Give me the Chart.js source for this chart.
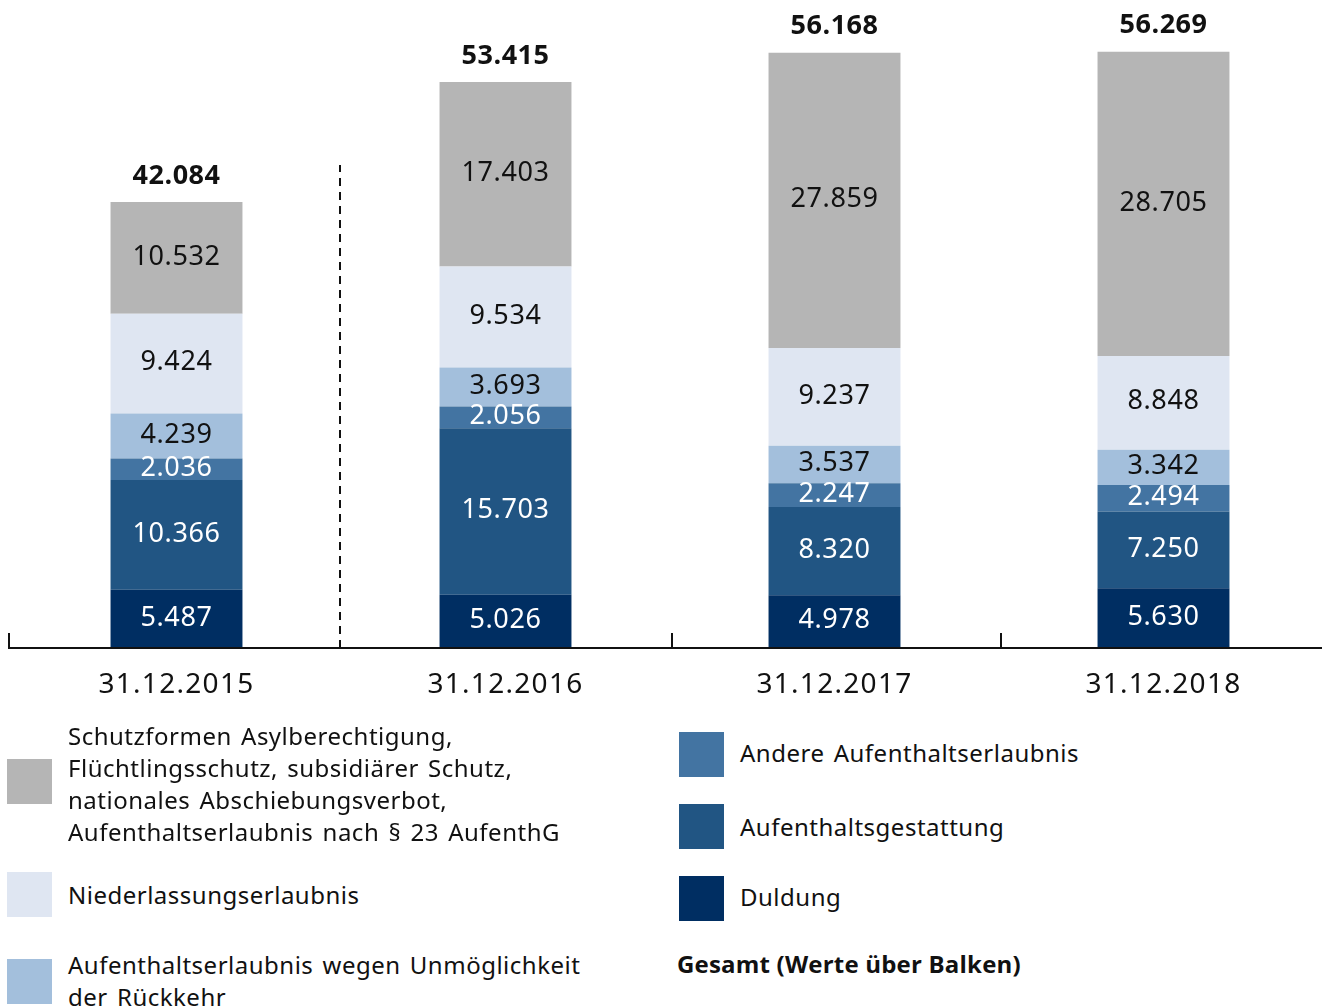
<!DOCTYPE html>
<html>
<head>
<meta charset="utf-8">
<script src="https://cdn.jsdelivr.net/npm/chart.js@4/dist/chart.umd.min.js"></script>
<style>
  html, body { margin: 0; padding: 0; background: #fff; }
  body { width: 1323px; height: 1006px; position: relative; overflow: hidden; font-family: "Noto Sans", sans-serif; color: #111; }
  #wrap { position: absolute; left: 0; top: 0; width: 1328px; height: 720px; }
  .sw { position: absolute; width: 45px; height: 45px; }
  .lt { position: absolute; font-size: 24px; line-height: 32px; white-space: nowrap; letter-spacing: 0.5px; word-spacing: 2.5px; }
  .bold { font-family: "Open Sans", sans-serif; font-weight: bold; letter-spacing: 0.2px; word-spacing: 0; }
</style>
</head>
<body>
<div id="wrap"><canvas id="c" width="1328" height="720"></canvas></div>

<div class="sw" style="left:7px;top:759px;background:#b5b5b5"></div>
<div class="lt" style="left:68px;top:720px">Schutzformen Asylberechtigung,<br>Flüchtlingsschutz, subsidiärer Schutz,<br>nationales Abschiebungsverbot,<br>Aufenthaltserlaubnis nach § 23 AufenthG</div>
<div class="sw" style="left:7px;top:872px;background:#dfe6f2"></div>
<div class="lt" style="left:68px;top:879px">Niederlassungserlaubnis</div>
<div class="sw" style="left:7px;top:959px;background:#a3bfdc"></div>
<div class="lt" style="left:68px;top:949px">Aufenthaltserlaubnis wegen Unmöglichkeit<br>der Rückkehr</div>

<div class="sw" style="left:679px;top:732px;background:#4374a2"></div>
<div class="lt" style="left:740px;top:737px">Andere Aufenthaltserlaubnis</div>
<div class="sw" style="left:679px;top:804px;background:#215583"></div>
<div class="lt" style="left:740px;top:811px">Aufenthaltsgestattung</div>
<div class="sw" style="left:679px;top:876px;background:#002e62"></div>
<div class="lt" style="left:740px;top:881px">Duldung</div>
<div class="lt bold" style="left:677px;top:948px">Gesamt (Werte über Balken)</div>

<script>
const categories = ["31.12.2015", "31.12.2016", "31.12.2017", "31.12.2018"];
const duldung = [5487, 5026, 4978, 5630];
const gestattung = [10366, 15703, 8320, 7250];
const andere = [2036, 2056, 2247, 2494];
const unmoeglichkeit = [4239, 3693, 3537, 3342];
const niederlassung = [9424, 9534, 9237, 8848];
const schutzformen = [10532, 17403, 27859, 28705];
const totals = [42084, 53415, 56168, 56269];

const seriesNames = ["Duldung", "Aufenthaltsgestattung", "Andere Aufenthaltserlaubnis",
  "Aufenthaltserlaubnis wegen Unmöglichkeit der Rückkehr", "Niederlassungserlaubnis",
  "Schutzformen"];
const seriesData = [duldung, gestattung, andere, unmoeglichkeit, niederlassung, schutzformen];
const seriesColors = ["#002e62", "#215583", "#4374a2", "#a3bfdc", "#dfe6f2", "#b5b5b5"];
const labelColors = ["#ffffff", "#ffffff", "#ffffff", "#111111", "#111111", "#111111"];

function fmt(n) {
  return String(n).replace(/\B(?=(\d{3})+(?!\d))/g, ".");
}

const FONT = '"Noto Sans", sans-serif';

const labelPlugin = {
  id: 'labels',
  beforeDraw(chart) {
    chart.ctx.letterSpacing = '1.3px';
  },
  afterDatasetsDraw(chart) {
    const ctx = chart.ctx;
    ctx.save();
    ctx.textAlign = 'center';
    ctx.textBaseline = 'middle';
    ctx.letterSpacing = '0.6px';
    chart.data.datasets.forEach((ds, di) => {
      const meta = chart.getDatasetMeta(di);
      meta.data.forEach((bar, i) => {
        const y = (bar.y + bar.base) / 2;
        ctx.fillStyle = labelColors[di];
        ctx.font = '27px ' + FONT;
        ctx.fillText(fmt(ds.data[i]), bar.x, y - 1);
      });
    });
    const topMeta = chart.getDatasetMeta(chart.data.datasets.length - 1);
    ctx.fillStyle = '#111';
    ctx.letterSpacing = '0.5px';
    ctx.font = 'bold 27px "Open Sans", sans-serif';
    topMeta.data.forEach((bar, i) => {
      ctx.fillText(fmt(totals[i]), bar.x, bar.y - 26);
    });
    ctx.restore();
  },
  afterDraw(chart) {
    const ctx = chart.ctx;
    const area = chart.chartArea;
    const x = chart.scales.x;
    const n = categories.length;
    const w = (area.right - area.left) / n;
    ctx.save();
    ctx.strokeStyle = '#111';
    ctx.lineWidth = 2;
    ctx.beginPath();
    ctx.moveTo(area.left - 4, area.bottom);
    ctx.lineTo(1322, area.bottom);
    ctx.stroke();
    for (let i = 0; i < n; i++) {
      if (i === 1) continue;
      const bx = i === 0 ? area.left - 3 : x.getPixelForValue(i) - w / 2 + 2;
      ctx.beginPath();
      ctx.moveTo(bx, area.bottom - 15);
      ctx.lineTo(bx, area.bottom);
      ctx.stroke();
    }
    const sx = x.getPixelForValue(1) - w / 2 - 1;
    ctx.setLineDash([8, 6]);
    ctx.beginPath();
    ctx.moveTo(sx, area.bottom);
    ctx.lineTo(sx, 165);
    ctx.stroke();
    ctx.restore();
  }
};

new Chart(document.getElementById('c'), {
  type: 'bar',
  data: {
    labels: categories,
    datasets: seriesData.map((d, i) => ({
      label: seriesNames[i],
      data: d,
      backgroundColor: seriesColors[i],
      borderWidth: 0,
      categoryPercentage: 1,
      barPercentage: 0.401
    }))
  },
  options: {
    responsive: false,
    animation: false,
    layout: { padding: { left: 12, right: 0, top: 0, bottom: 0 } },
    plugins: { legend: { display: false }, tooltip: { enabled: false } },
    scales: {
      x: {
        stacked: true,
        grid: { display: false, drawTicks: false },
        border: { display: false },
        ticks: { color: '#111', font: { family: '"Noto Sans", sans-serif', size: 28 }, padding: 20 },
        afterFit(scale) { scale.height = 72; }
      },
      y: {
        stacked: true,
        display: false,
        min: 0,
        max: 61150
      }
    }
  },
  plugins: [labelPlugin]
});
</script>
</body>
</html>
